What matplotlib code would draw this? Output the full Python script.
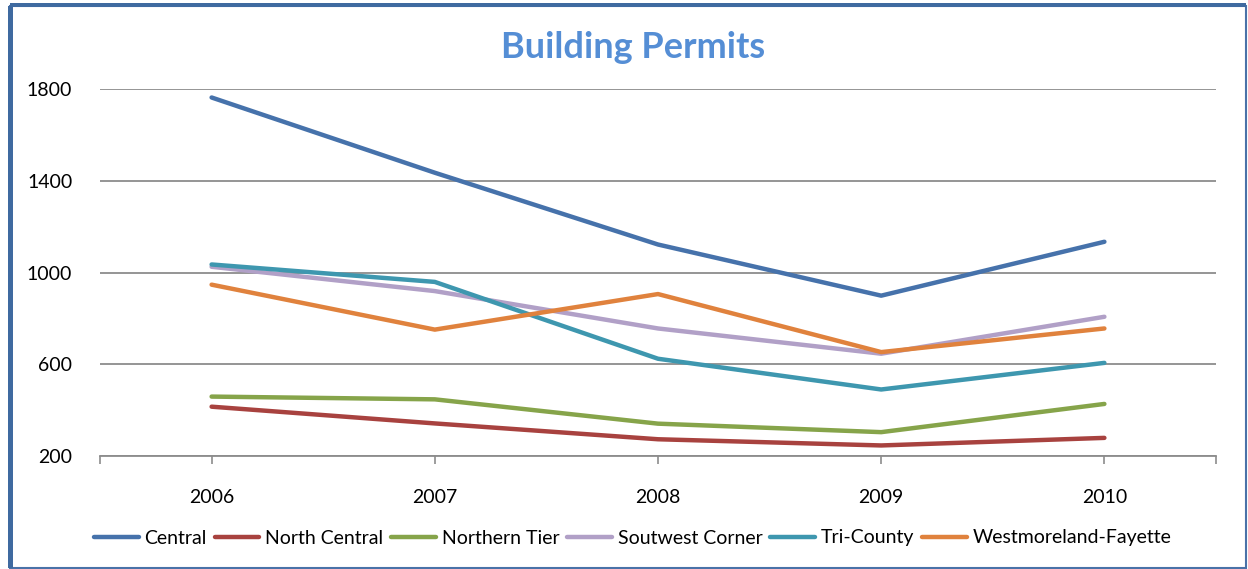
import matplotlib

matplotlib.use("Agg")
import matplotlib.pyplot as plt
from matplotlib.patches import Rectangle

years = ["2006", "2007", "2008", "2009", "2010"]
central = [1763, 1435, 1122, 899, 1134]
north_central = [415, 342, 273, 246, 279]
northern_tier = [459, 447, 341, 304, 427]
southwest_corner = [1025, 919, 756, 646, 807]
tri_county = [1035, 959, 624, 490, 606]
westmoreland_fayette = [947, 751, 906, 653, 756]

series = [
    ("Central", central, "#4672AB"),
    ("North Central", north_central, "#A8423F"),
    ("Northern Tier", northern_tier, "#86A44A"),
    ("Soutwest Corner", southwest_corner, "#B1A0C7"),
    ("Tri-County", tri_county, "#3E97AF"),
    ("Westmoreland-Fayette", westmoreland_fayette, "#E0823D"),
]
yticks = [200, 600, 1000, 1400, 1800]

plt.rcParams["font.family"] = ["Lato", "DejaVu Sans"]

fig = plt.figure(figsize=(12.48, 5.69), dpi=100)
ax = fig.add_axes([100 / 1248, 1 - 456 / 569, 1116 / 1248, 367 / 569])

x = list(range(len(years)))
for name, vals, color in series:
    ax.plot(x, vals, color=color, lw=3.2, label=name, solid_capstyle="round")

ax.set_xlim(-0.5, len(years) - 0.5)
ax.set_ylim(200, 1800)
ax.set_yticks(yticks)
ax.set_yticklabels([str(v) for v in yticks], fontsize=14)
ax.set_xticks(x)
ax.set_xticklabels(years, fontsize=14)
ax.set_xticks([-0.5, len(years) - 0.5], minor=True)
ax.yaxis.grid(True, color="#8C8C8C", lw=1.3)
ax.set_axisbelow(True)
for s in ["top", "right", "left"]:
    ax.spines[s].set_visible(False)
ax.spines["bottom"].set_color("#8C8C8C")
ax.spines["bottom"].set_linewidth(1.3)
ax.tick_params(axis="y", length=0, pad=20)
ax.tick_params(axis="x", which="both", direction="out", length=6, color="#8C8C8C", width=1.2, pad=18)

fig.text(0.507, 1 - 48 / 569, "Building Permits", ha="center", va="center",
         fontsize=26, fontweight="bold", color="#558ED5")

fig.legend(loc="center", bbox_to_anchor=(0.507, 1 - 538 / 569), ncol=6, frameon=False,
           fontsize=14, handlelength=2.3, handletextpad=0.3, columnspacing=0.4)

# outer chart frame
fig.patches.append(Rectangle((10 / 1248, 1 / 569), 1236 / 1248, 562 / 569, transform=fig.transFigure,
                             fill=False, edgecolor="#4A72A8", lw=1.5))
fig.patches.append(Rectangle((10 / 1248, 1 - 7 / 569), 1236 / 1248, 4 / 569, transform=fig.transFigure,
                             color="#3F6AA0", lw=0))
fig.patches.append(Rectangle((8 / 1248, 1 / 569), 5 / 1248, 562 / 569, transform=fig.transFigure,
                             color="#3F6AA0", lw=0))

fig.savefig("out.png", dpi=100)
